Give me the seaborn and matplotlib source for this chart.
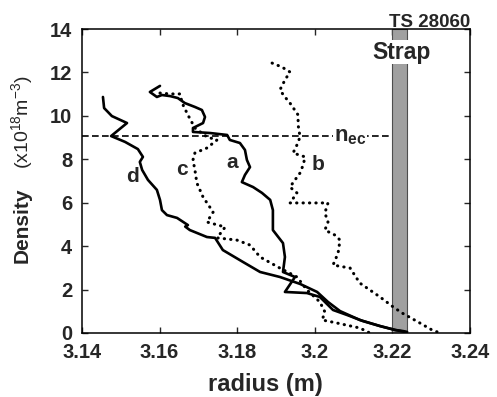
import matplotlib
matplotlib.use("Agg")
import matplotlib.pyplot as plt
import pandas as pd
import seaborn as sns

# ---- density profiles: radius (m) vs density (1e18 m^-3) ----
a_radius = [3.1601, 3.1575, 3.1593, 3.1606, 3.1627, 3.1647, 3.1665, 3.1691, 3.1709,
            3.1717, 3.1712, 3.1686, 3.1686, 3.1730, 3.1774, 3.1781, 3.1807, 3.1820,
            3.1825, 3.1833, 3.1820, 3.1812, 3.1841, 3.1864, 3.1885, 3.1892, 3.1892,
            3.1918, 3.1923, 3.1918, 3.1949, 3.1923, 3.1980, 3.2013, 3.2047, 3.2083,
            3.2124, 3.2168, 3.2207, 3.2232]
a_density = [11.38, 11.10, 10.87, 10.96, 10.91, 10.82, 10.59, 10.41, 10.27,
             9.95, 9.67, 9.44, 9.26, 9.21, 9.12, 8.89, 8.75, 8.43,
             7.97, 7.64, 7.28, 6.95, 6.72, 6.45, 6.13, 5.66, 4.74,
             4.14, 3.50, 2.81, 2.58, 1.89, 1.84, 1.66, 1.06, 0.83,
             0.55, 0.32, 0.14, 0.05]

b_radius = [3.1890, 3.1915, 3.1936, 3.1923, 3.1910, 3.1923, 3.1936, 3.1957, 3.1957,
            3.1962, 3.1954, 3.1944, 3.1975, 3.1970, 3.1962, 3.1949, 3.1936, 3.1954,
            3.1936, 3.1988, 3.2034, 3.2026, 3.2034, 3.2026, 3.2052, 3.2065, 3.2060,
            3.2047, 3.2091, 3.2116, 3.2168, 3.2202, 3.2225, 3.2266, 3.2302, 3.2323]
b_density = [12.43, 12.25, 12.02, 11.65, 11.19, 10.87, 10.59, 10.04, 9.58,
             9.03, 8.66, 8.29, 8.11, 7.74, 7.37, 7.05, 6.72, 6.45,
             5.99, 5.99, 5.99, 5.53, 5.11, 4.74, 4.51, 4.28, 3.68,
             3.13, 2.99, 2.30, 1.66, 1.20, 0.92, 0.51, 0.14, 0.0]

c_radius = [3.1601, 3.1627, 3.1653, 3.1658, 3.1673, 3.1691, 3.1722, 3.1748, 3.1722,
            3.1691, 3.1686, 3.1691, 3.1696, 3.1712, 3.1738, 3.1722, 3.1769, 3.1748,
            3.1799, 3.1833, 3.1859, 3.1910, 3.1954, 3.1980, 3.2013, 3.2026, 3.2019,
            3.2057, 3.2116, 3.2142]
c_density = [11.05, 11.01, 11.01, 10.59, 10.04, 9.44, 9.03, 8.89, 8.52,
             8.29, 7.97, 7.51, 6.91, 6.26, 5.57, 5.11, 4.88, 4.38,
             4.28, 4.05, 3.50, 2.99, 2.58, 1.98, 1.43, 0.97, 0.60,
             0.46, 0.23, 0.0]

d_radius = [3.1454, 3.1457, 3.1477, 3.1516, 3.1475, 3.1511, 3.1544, 3.1557, 3.1549,
            3.1555, 3.1570, 3.1593, 3.1601, 3.1606, 3.1619, 3.1645, 3.1673, 3.1666,
            3.1678, 3.1722, 3.1743, 3.1763, 3.1815, 3.1859, 3.1910, 3.1962, 3.2006,
            3.2034, 3.2065, 3.2116, 3.2168, 3.2207, 3.2227, 3.2238]
d_density = [10.87, 10.36, 9.99, 9.67, 9.07, 8.80, 8.47, 8.11, 7.88,
             7.51, 7.05, 6.59, 6.13, 5.66, 5.43, 5.30, 4.97, 4.90,
             4.74, 4.42, 4.38, 3.82, 3.27, 2.81, 2.58, 2.26, 1.89,
             1.43, 1.01, 0.60, 0.32, 0.14, 0.09, 0.05]

# cutoff density and strap position
nec_level = 9.07
strap_left, strap_right = 3.2200, 3.2237
x_min, x_max = 3.14, 3.24
y_min, y_max = 0, 14
x_ticks = [3.14, 3.16, 3.18, 3.20, 3.22, 3.24]
x_tick_labels = ["3.14", "3.16", "3.18", "3.2", "3.22", "3.24"]
y_ticks = [0, 2, 4, 6, 8, 10, 12, 14]

# curve labels (name, radius, density)
label_pos = {"a": (3.1787, 7.83), "b": (3.2008, 7.74),
             "c": (3.1658, 7.51), "d": (3.1529, 7.19)}

sns.set_theme(style="ticks")
plt.rcParams["font.family"] = ["Liberation Sans", "DejaVu Sans"]
plt.rcParams["mathtext.fontset"] = "custom"
plt.rcParams["mathtext.rm"] = "Liberation Sans"
plt.rcParams["mathtext.bf"] = "Liberation Sans:bold"
plt.rcParams["mathtext.it"] = "Liberation Sans:italic"

fig = plt.figure(figsize=(4.97, 3.97), dpi=100)
ax = fig.add_axes([82 / 497, 64 / 397, 388 / 497, 304 / 397])

# strap
ax.axvspan(strap_left, strap_right, facecolor="#a0a0a0", edgecolor="#4d4d4d",
           lw=0.8, zorder=1)

# cutoff line
ax.hlines(nec_level, x_min, strap_left, colors="black", lw=1.2,
          linestyles=(0, (4, 2)), zorder=2)

solid = dict(color="black", lw=1.9, sort=False, estimator=None, zorder=3,
             solid_joinstyle="round", solid_capstyle="round")
dotted = dict(color="black", lw=2.2, sort=False, estimator=None, zorder=3,
              linestyle=(0, (0.1, 2.0)), dash_capstyle="round")

for r, n, style in [(a_radius, a_density, solid), (d_radius, d_density, solid),
                    (b_radius, b_density, dotted), (c_radius, c_density, dotted)]:
    df = pd.DataFrame({"radius": r, "density": n})
    sns.lineplot(data=df, x="radius", y="density", ax=ax, **style)

for name, (xr, yd) in label_pos.items():
    ax.text(xr, yd, name, fontsize=15, fontweight="bold", ha="center",
            va="center", zorder=4)

ax.text(3.2091, nec_level, r"$\mathbf{n}_{\mathbf{ec}}$", fontsize=16,
        ha="center", va="center", zorder=4,
        bbox=dict(facecolor="white", edgecolor="none", pad=0.5))
ax.text((strap_left + strap_right) / 2 + 0.0006, 12.94, "Strap", fontsize=16.5,
        fontweight="bold", ha="center", va="center", zorder=4,
        bbox=dict(facecolor="white", edgecolor="none", pad=0.5))
ax.text(1.0, 1.006, "TS 28060", transform=ax.transAxes, fontsize=13.5,
        fontweight="bold", ha="right", va="baseline")

ax.set_xlim(x_min, x_max)
ax.set_ylim(y_min, y_max)
ax.set_xticks(x_ticks)
ax.set_xticklabels(x_tick_labels)
ax.set_yticks(y_ticks)
ax.tick_params(direction="in", length=4, width=1, top=True, right=True,
               labelsize=14.5, pad=7)
for lbl in ax.get_xticklabels() + ax.get_yticklabels():
    lbl.set_fontweight("bold")
for sp in ax.spines.values():
    sp.set_linewidth(1.1)
    sp.set_color("black")

ax.set_xlabel("")
ax.set_ylabel("")
fig.text(265 / 497, 1 - 385 / 397, "radius (m)", fontsize=17,
         fontweight="bold", ha="center", va="center")
fig.text(22 / 497, 1 - 225 / 397, "Density", rotation=90, fontsize=15,
         fontweight="bold", ha="center", va="center")
fig.text(22 / 497, 1 - 122 / 397, r"(x10$^{18}$m$^{-3}$)", rotation=90,
         fontsize=14, ha="center", va="center")

fig.savefig("out.png", dpi=100)
